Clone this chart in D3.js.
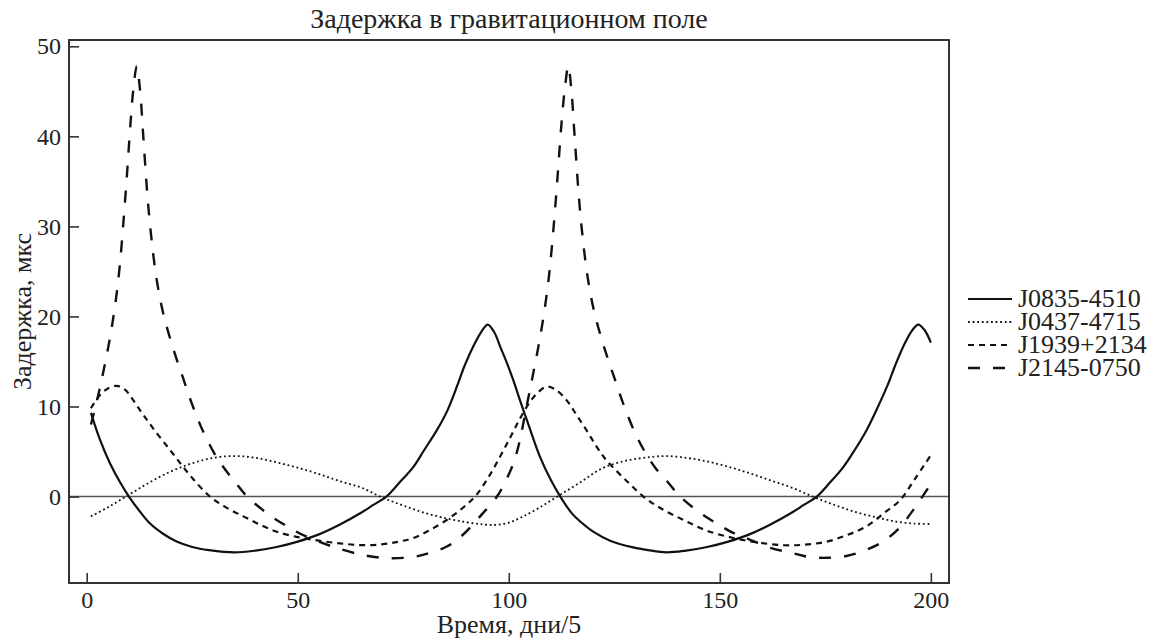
<!DOCTYPE html>
<html lang="ru">
	<head>
		<meta charset="utf-8">
		<title>Задержка в гравитационном поле</title>
		<script src="https://d3js.org/d3.v7.min.js"></script>
		<style>
			body { margin: 0; background: #fff; }
			text { font-family: "Liberation Serif", "DejaVu Serif", serif; fill: #222; }
		</style>
	</head>
	<body>
		<script type="text/javascript">

			// data (t in days/5, delay in microseconds)
			var seriesNames = ["J0835-4510", "J0437-4715", "J1939+2134", "J2145-0750"];

			var t0835 = [1, 3, 5.5, 8, 10, 12.5, 15, 18, 21.3, 25, 29, 35, 40, 45, 50, 55, 60, 65, 68, 71, 74, 77.4, 80, 83, 85.5, 87.7, 89.5, 91.6, 93.5, 95, 96.5, 98, 99.5, 101, 103, 104.5, 107.4, 110, 112.2, 115, 117, 120, 124, 129.5, 133, 137.4, 142, 147, 152, 157, 162, 167, 170, 173, 176, 179.3, 182, 184.8, 187, 189.6, 191.5, 193.5, 195.5, 197, 198.5, 200];
			var v0835 = [9.3, 6.5, 3.7, 1.5, 0, -1.6, -3.0, -4.1, -5.0, -5.6, -5.95, -6.2, -6.0, -5.6, -5.0, -4.2, -3.1, -1.8, -0.9, 0, 1.5, 3.3, 5.2, 7.4, 9.6, 12.2, 14.5, 16.7, 18.3, 19.1, 18.3, 16.6, 14.9, 13, 10.2, 8.2, 4.4, 1.8, 0, -1.9, -2.8, -3.9, -4.9, -5.65, -5.95, -6.2, -6.0, -5.6, -5.0, -4.2, -3.1, -1.8, -0.9, 0, 1.5, 3.3, 5.2, 7.4, 9.5, 12.2, 14.5, 16.7, 18.4, 19.1, 18.5, 17.1];

			var t0437 = [1, 5, 10, 15, 20, 25, 30, 35, 40, 45, 50, 55, 60, 65, 70, 75, 80, 85, 90, 94, 97, 100, 103, 107, 111.5, 117, 122, 127, 132, 137, 142, 147, 152, 157, 162, 167, 172, 177, 182, 187, 192, 196, 200];
			var v0437 = [-2.2, -1.2, 0.2, 1.6, 2.8, 3.7, 4.3, 4.5, 4.3, 3.8, 3.2, 2.5, 1.7, 1.0, -0.1, -1.0, -1.8, -2.4, -2.85, -3.1, -3.15, -2.9, -2.3, -1.3, 0, 1.6, 3.1, 3.9, 4.3, 4.5, 4.3, 3.9, 3.3, 2.6, 1.8, 1.0, 0, -0.9, -1.7, -2.3, -2.8, -3.0, -3.05];

			var t1939 = [1, 3, 5, 7, 9, 12.6, 16, 19.7, 22.5, 25.3, 29.2, 33, 37.1, 41, 45, 50, 55, 60, 65, 70, 74, 77.4, 81, 85.3, 89, 92, 95, 97.9, 100.5, 102.7, 105, 107, 109, 111, 113.7, 116, 118.5, 121, 123.2, 128, 131.9, 136, 141.4, 147, 153.2, 159, 165, 170, 175.4, 180, 184.8, 189, 192.7, 196, 200];
			var v1939 = [9.8, 11.2, 12.0, 12.3, 11.9, 9.6, 7.4, 5.2, 3.5, 1.9, 0, -1.2, -2.2, -3.1, -3.9, -4.5, -4.9, -5.2, -5.4, -5.3, -5.0, -4.6, -3.8, -2.6, -1.3, 0, 2.0, 4.4, 6.7, 8.7, 10.5, 11.6, 12.2, 11.9, 10.7, 9.1, 7.3, 5.4, 4.0, 1.7, 0, -1.3, -2.6, -3.8, -4.6, -5.1, -5.4, -5.35, -5.0, -4.3, -3.3, -1.8, -0.4, 1.8, 4.6];

			var t2145 = [1, 2.5, 4, 5.5, 6.8, 7.8, 8.7, 9.6, 10.4, 11.1, 11.85, 12.6, 13.4, 14.4, 15.3, 16.5, 18, 19.6, 21.2, 22.8, 25, 27.5, 30, 32.5, 35, 38, 42, 45, 48.2, 50.5, 55, 59.2, 65.5, 71.9, 77.4, 81, 85.3, 89, 93.2, 97.2, 99, 101.1, 102.5, 104, 105.5, 107, 108.3, 109.5, 110.6, 111.6, 112.5, 113.3, 114.1, 114.8, 115.6, 116.6, 117.5, 118.7, 120.2, 121.8, 123.4, 125, 127.2, 129.7, 132.2, 134.7, 137.5, 140.6, 145, 149.3, 153, 157.2, 162, 167.4, 171, 175.4, 180, 184.8, 189, 192.7, 195.5, 198, 200];
			var v2145 = [8.0, 10.8, 14.0, 17.6, 21.5, 25.5, 30.5, 36.2, 41.6, 45.5, 47.8, 45.3, 40, 33.3, 28.8, 24.3, 20.6, 17.8, 15.4, 13.2, 10.2, 7.3, 5.0, 3.2, 1.7, 0, -1.6, -2.6, -3.5, -4.1, -5.0, -5.7, -6.5, -6.85, -6.7, -6.3, -5.55, -4.3, -2.2, 0, 1.5, 3.7, 6.0, 9.5, 13.0, 16.6, 20.2, 24.4, 29.8, 35.8, 41.5, 45.4, 47.8, 45.3, 40, 33.3, 28.8, 24.3, 20.6, 17.8, 15.4, 13.2, 10.2, 7.3, 5.0, 3.2, 1.7, 0, -1.7, -3.0, -4.0, -4.8, -5.7, -6.3, -6.7, -6.8, -6.6, -5.9, -4.9, -3.4, -1.7, 0, 1.4];

			var xTicks = [0, 50, 100, 150, 200];
			var yTicks = [0, 10, 20, 30, 40, 50];

			var titleText = "Задержка в гравитационном поле";
			var xLabel = "Время, дни/5";
			var yLabel = "Задержка, мкс";

			// line styles per series
			var dashes = [null, "1.8,2.8", "6,5", "12,13"];
			var widths = [2.2, 1.8, 2.2, 2.4];

			//Width and height of svg
			var w = 1156;
			var h = 639;
			var padL = 69, padR = 949, padT = 40, padB = 583;

			var xScale = d3.scaleLinear().domain([-4.2, 204.3]).range([padL, padR]);
			var yScale = d3.scaleLinear().domain([-9.6, 50.7]).range([padB, padT]);

			var svg = d3.select("body").append("svg").attr("width", w).attr("height", h);

			// zero line
			svg.append("line")
				.attr("x1", padL).attr("x2", padR)
				.attr("y1", yScale(0)).attr("y2", yScale(0))
				.attr("stroke", "#555").attr("stroke-width", 1.6);

			// curves
			var series = [
				d3.zip(t0835, v0835),
				d3.zip(t0437, v0437),
				d3.zip(t1939, v1939),
				d3.zip(t2145, v2145)
			];
			var line = d3.line()
				.x(function(d) { return xScale(d[0]); })
				.y(function(d) { return yScale(d[1]); })
				.curve(d3.curveCatmullRom.alpha(0.5));

			series.forEach(function(s, i) {
				svg.append("path")
					.attr("d", line(s))
					.attr("fill", "none")
					.attr("stroke", "#111")
					.attr("stroke-width", widths[i])
					.attr("stroke-dasharray", dashes[i]);
			});

			// axes, ticks pointing inwards
			var xAxis = d3.axisBottom(xScale).tickValues(xTicks).tickSizeInner(-10).tickSizeOuter(0).tickPadding(8);
			var yAxis = d3.axisLeft(yScale).tickValues(yTicks).tickSizeInner(-10).tickSizeOuter(0).tickPadding(8);

			var gx = svg.append("g").attr("transform", "translate(0," + padB + ")").call(xAxis);
			var gy = svg.append("g").attr("transform", "translate(" + padL + ",0)").call(yAxis);
			[gx, gy].forEach(function(g) {
				g.select(".domain").remove();
				g.selectAll(".tick line").attr("stroke", "#333").attr("stroke-width", 1.6);
				g.selectAll(".tick text").attr("font-size", 24).attr("font-family", "Liberation Serif").attr("fill", "#222");
			});

			// frame
			svg.append("rect")
				.attr("x", padL).attr("y", padT)
				.attr("width", padR - padL).attr("height", padB - padT)
				.attr("fill", "none").attr("stroke", "#333").attr("stroke-width", 2);

			// titles
			svg.append("text").attr("x", (padL + padR) / 2).attr("y", 28)
				.attr("text-anchor", "middle").attr("font-size", 28).text(titleText);
			svg.append("text").attr("x", (padL + padR) / 2).attr("y", 633)
				.attr("text-anchor", "middle").attr("font-size", 26).text(xLabel);
			svg.append("text").attr("transform", "translate(31," + ((padT + padB) / 2) + ") rotate(-90)")
				.attr("text-anchor", "middle").attr("font-size", 26).text(yLabel);

			// legend
			var legend = svg.append("g").attr("transform", "translate(968,299)");
			seriesNames.forEach(function(name, i) {
				var row = legend.append("g").attr("transform", "translate(0," + (i * 23) + ")");
				row.append("line").attr("x1", 0).attr("x2", 44).attr("y1", 0).attr("y2", 0)
					.attr("stroke", "#111").attr("stroke-width", widths[i])
					.attr("stroke-dasharray", dashes[i]);
				row.append("text").attr("x", 50).attr("y", 8).attr("font-size", 26).text(name);
			});

		</script>
	</body>
</html>
